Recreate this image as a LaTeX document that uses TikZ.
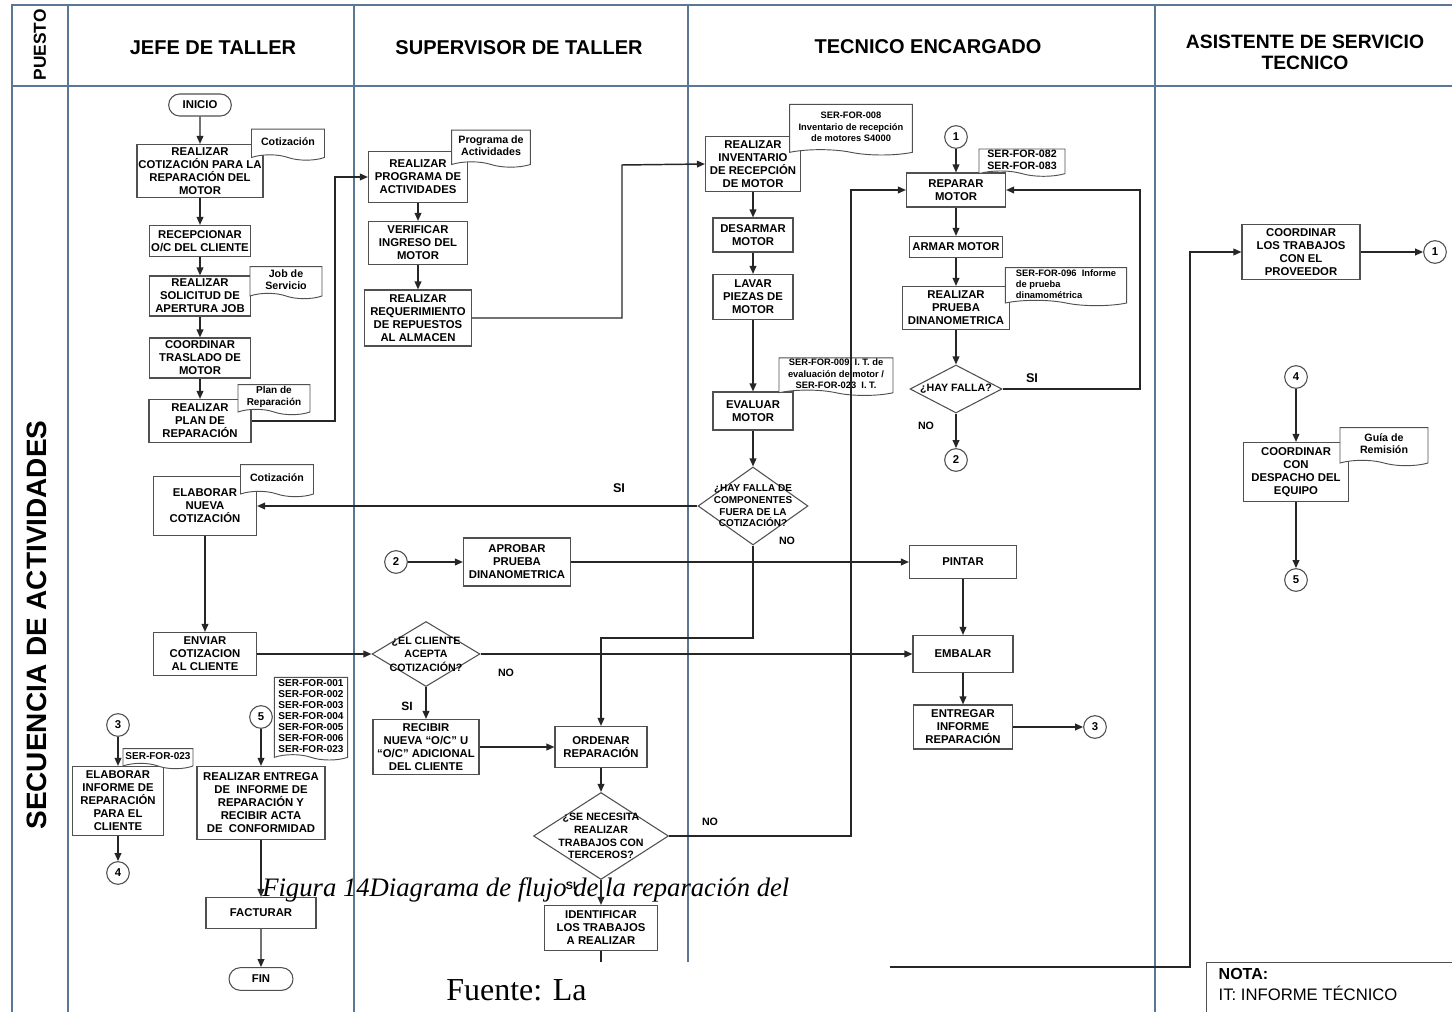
\documentclass[tikz,border=0pt]{standalone}
\usepackage{fontspec}
\setmainfont{Liberation Sans}
\newfontfamily\capfont{Liberation Serif}
\usetikzlibrary{arrows.meta,shapes.geometric,shapes.misc,shapes.symbols}

\definecolor{lanecol}{RGB}{90,120,150}
\definecolor{boxcol}{RGB}{80,80,80}

\begin{document}
\begin{tikzpicture}[x=0.75pt,y=-0.75pt,
  lane/.style={draw=lanecol,line width=1.1pt},
  proc/.style={draw=boxcol,line width=0.8pt,fill=white,align=center,inner sep=1pt,font=\bfseries\fontsize{8.5}{9.75}\selectfont},
  term/.style={proc,rounded rectangle},
  dec/.style={draw=boxcol,line width=0.8pt,fill=white,diamond,inner sep=0pt},
  dectext/.style={align=center,font=\bfseries\fontsize{7.5}{8.8}\selectfont},
  docu/.style={draw=boxcol,line width=0.7pt,fill=white,tape,tape bend top=none,tape bend bottom=out and in,tape bend height=4pt,align=center,inner sep=1pt,font=\bfseries\fontsize{8}{9}\selectfont},
  conn/.style={draw=boxcol,line width=0.8pt,fill=white,circle,minimum size=17pt,inner sep=0pt,font=\bfseries\fontsize{8.5}{9}\selectfont},
  lbl/.style={font=\bfseries\fontsize{8}{9}\selectfont},
  head/.style={font=\bfseries\fontsize{15}{16}\selectfont,align=center},
  flow/.style={draw=black!85,line width=1.1pt,-{Triangle[length=6pt,width=5pt]}}
]
\useasboundingbox (0,0) rectangle (1452,1012);

\draw[lane] (12,1012) -- (12,5) -- (1452,5);
\draw[lane] (12,86) -- (1452,86);
\foreach \x in {68,354,688,1155} \draw[lane] (\x,5) -- (\x,1012);

\node[rotate=90,font=\bfseries\fontsize{13}{14}\selectfont] (puesto) at (40,45) {PUESTO};
\node[rotate=90,font=\bfseries\fontsize{21}{22}\selectfont] (secuencia) at (37,625) {SECUENCIA DE ACTIVIDADES};

\node[head] (hjefe) at (213,48) {JEFE DE TALLER};
\node[head] (hsup) at (519,48) {SUPERVISOR DE TALLER};
\node[head] (htec) at (928,47) {TECNICO ENCARGADO};
\node[head,font=\bfseries\fontsize{14.5}{15.75}\selectfont] (hasis) at (1305,52) {ASISTENTE DE SERVICIO\\TECNICO};

% jefe de taller
\node[term,minimum width=49pt,minimum height=16.5pt] (inicio) at (200,105) {INICIO};
\node[proc,minimum width=94.5pt,minimum height=39.75pt] (cotiz) at (200,171) {REALIZAR\\COTIZACIÓN PARA LA\\REPARACIÓN DEL\\MOTOR};
\node[proc,minimum width=75.75pt,minimum height=23.25pt] (recep) at (200,241) {RECEPCIONAR\\O/C DEL CLIENTE};
\node[proc,minimum width=75.75pt,minimum height=30pt] (solic) at (200,296) {REALIZAR\\SOLICITUD DE\\APERTURA JOB};
\node[proc,minimum width=75.75pt,minimum height=30pt] (trasl) at (200,358) {COORDINAR\\TRASLADO DE\\MOTOR};
\node[proc,minimum width=76.5pt,minimum height=32.25pt] (plan) at (200,421) {REALIZAR\\PLAN DE\\REPARACIÓN};
\node[proc,minimum width=77.25pt,minimum height=44.25pt] (nueva) at (205,506) {ELABORAR\\NUEVA\\COTIZACIÓN};
\node[proc,minimum width=77.25pt,minimum height=32.25pt] (enviar) at (205,654) {ENVIAR\\COTIZACION\\AL CLIENTE};
\node[conn] (c3b) at (118,725) {3};
\node[proc,minimum width=68.25pt,minimum height=51.75pt] (elabinf) at (118,801) {ELABORAR\\INFORME DE\\REPARACIÓN\\PARA EL\\CLIENTE};
\node[conn] (c4a) at (118,873) {4};
\node[conn] (c5b) at (261,717) {5};
\node[proc,minimum width=96pt,minimum height=54.75pt] (entrega) at (261,803) {REALIZAR ENTREGA\\DE\ \ INFORME DE\\REPARACIÓN Y\\RECIBIR ACTA\\DE\ \ CONFORMIDAD};
\node[proc,minimum width=82.5pt,minimum height=23.25pt] (factur) at (261,913) {FACTURAR};
\node[term,minimum width=50pt,minimum height=17pt] (fin) at (261,979) {FIN};

% supervisor de taller
\node[proc,minimum width=74.25pt,minimum height=38.25pt] (prog) at (418,177) {REALIZAR\\PROGRAMA DE\\ACTIVIDADES};
\node[proc,minimum width=74.25pt,minimum height=32.25pt] (verif) at (418,243) {VERIFICAR\\INGRESO DEL\\MOTOR};
\node[proc,minimum width=80.25pt,minimum height=42pt] (requer) at (418,318) {REALIZAR\\REQUERIMIENTO\\DE REPUESTOS\\AL ALMACEN};
\node[conn] (c2b) at (396,562) {2};
\node[proc,minimum width=80.25pt,minimum height=36pt] (aprob) at (517,562) {APROBAR\\PRUEBA\\DINANOMETRICA};
\node[dec,minimum width=81pt,minimum height=48.75pt,label={[dectext,font=\bfseries\fontsize{8}{10}\selectfont]center:{¿EL CLIENTE\\ACEPTA\\COTIZACIÓN?}}] (acepta) at (426,654) {};
\node[proc,minimum width=79.5pt,minimum height=41.25pt] (recibir) at (426,747) {RECIBIR\\NUEVA “O/C” U\\“O/C” ADICIONAL\\DEL CLIENTE};
\node[proc,minimum width=69pt,minimum height=30.75pt] (ordenar) at (601,747) {ORDENAR\\REPARACIÓN};
\node[dec,minimum width=101.25pt,minimum height=65.25pt,label={[dectext,font=\bfseries\fontsize{8}{9.6}\selectfont]center:{¿SE NECESITA\\REALIZAR\\TRABAJOS CON\\TERCEROS?}}] (terceros) at (601,836) {};
\node[proc,minimum width=84.75pt,minimum height=33.75pt] (identif) at (601,928) {IDENTIFICAR\\LOS TRABAJOS\\A REALIZAR};

% tecnico encargado
\node[proc,minimum width=71.25pt,minimum height=41.25pt] (invent) at (753,164) {REALIZAR\\INVENTARIO\\DE RECEPCIÓN\\DE MOTOR};
\node[proc,minimum width=60pt,minimum height=25.5pt] (desarm) at (753,235) {DESARMAR\\MOTOR};
\node[proc,minimum width=60pt,minimum height=33.75pt] (lavar) at (753,297) {LAVAR\\PIEZAS DE\\MOTOR};
\node[proc,minimum width=60pt,minimum height=28.5pt] (evaluar) at (753,411) {EVALUAR\\MOTOR};
\node[dec,minimum width=82.5pt,minimum height=58.5pt,label={[dectext]center:{¿HAY FALLA DE\\COMPONENTES\\FUERA DE LA\\COTIZACIÓN?}}] (fallacomp) at (753,506) {};
\node[conn] (c1a) at (956,137) {1};
\node[proc,minimum width=74.25pt,minimum height=25.5pt] (reparar) at (956,190) {REPARAR\\MOTOR};
\node[proc,minimum width=69.75pt,minimum height=15.75pt] (armar) at (956,247) {ARMAR MOTOR};
\node[proc,minimum width=80.25pt,minimum height=32.25pt] (prueba) at (956,308) {REALIZAR\\PRUEBA\\DINANOMETRICA};
\node[dec,minimum width=69pt,minimum height=36pt,label={[dectext,font=\bfseries\fontsize{8}{9}\selectfont]center:{¿HAY FALLA?}}] (hayfalla) at (956,389) {};
\node[conn] (c2a) at (956,460) {2};
\node[proc,minimum width=80.25pt,minimum height=24.75pt] (pintar) at (963,562) {PINTAR};
\node[proc,minimum width=75pt,minimum height=27.75pt] (embalar) at (963,654) {EMBALAR};
\node[proc,minimum width=74.25pt,minimum height=33pt] (entinf) at (963,727) {ENTREGAR\\INFORME\\REPARACIÓN};
\node[conn] (c3a) at (1095,727) {3};

% asistente de servicio tecnico
\node[proc,minimum width=88.5pt,minimum height=41.25pt] (coordprov) at (1301,252) {COORDINAR\\LOS TRABAJOS\\CON EL\\PROVEEDOR};
\node[conn] (c1b) at (1435,252) {1};
\node[conn] (c4b) at (1296,377) {4};
\node[proc,minimum width=78.75pt,minimum height=44.25pt] (despacho) at (1296,472) {COORDINAR\\CON\\DESPACHO DEL\\EQUIPO};
\node[conn] (c5a) at (1296,580) {5};

% documentos
\node[docu,minimum width=54.75pt,minimum height=23.25pt] (dcot) at (288,142) {Cotización};
\node[docu,minimum width=54pt,minimum height=24pt] (djob) at (286,280) {Job de\\Servicio};
\node[docu,minimum width=54pt,minimum height=22.5pt,font=\bfseries\fontsize{7.5}{8.5}\selectfont] (dplan) at (274,397) {Plan de\\Reparación};
\node[docu,minimum width=54.75pt,minimum height=24pt] (dnueva) at (277,478) {Cotización};
\node[docu,minimum width=52.5pt,minimum height=15pt,font=\bfseries\fontsize{7.5}{8}\selectfont] (dinf) at (158,756) {SER-FOR-023};
\node[docu,minimum width=55pt,minimum height=62pt,font=\bfseries\fontsize{7.5}{8.3}\selectfont] (dlista) at (311,716) {SER-FOR-001\\SER-FOR-002\\SER-FOR-003\\SER-FOR-004\\SER-FOR-005\\SER-FOR-006\\SER-FOR-023};
\node[docu,minimum width=59pt,minimum height=27.75pt] (dprog) at (491,146) {Programa de\\Actividades};
\node[docu,minimum width=92pt,minimum height=38pt,font=\bfseries\fontsize{7}{8.8}\selectfont] (dinv) at (851,127) {SER-FOR-008\\Inventario de recepción\\de motores S4000};
\node[docu,minimum width=85.5pt,minimum height=28pt,font=\bfseries\fontsize{7}{8.5}\selectfont] (deval) at (836,374) {SER-FOR-009\ \ I. T. de\\evaluación de motor /\\SER-FOR-023\ \ I. T.};
\node[docu,minimum width=64.5pt,minimum height=18pt,font=\bfseries\fontsize{8}{8.8}\selectfont] (drep) at (1022,160) {SER-FOR-082\\SER-FOR-083};
\node[docu,minimum width=91pt,minimum height=28.5pt,align=left,font=\bfseries\fontsize{7}{8.5}\selectfont] (dprueba) at (1066,284) {SER-FOR-096\ \ Informe\\de prueba\\dinamométrica};
\node[docu,minimum width=66pt,minimum height=28.5pt] (dguia) at (1384,444) {Guía de\\Remisión};

% etiquetas
\node[lbl,font=\bfseries\fontsize{9.5}{10}\selectfont] (si1) at (619,488) {SI};
\node[lbl] (no1) at (787,541) {NO};
\node[lbl] (no2) at (506,673) {NO};
\node[lbl,font=\bfseries\fontsize{9}{10}\selectfont] (si2) at (407,706) {SI};
\node[lbl] (no3) at (710,822) {NO};
\node[lbl] (si3) at (571,886) {SI};
\node[lbl,font=\bfseries\fontsize{9.5}{10}\selectfont] (si4) at (1032,378) {SI};
\node[lbl] (no4) at (926,426) {NO};

\coordinate (k1) at (335,177);
\coordinate (k2) at (622,165);
\coordinate (k3) at (601,638);
\coordinate (k4) at (851,190);
\coordinate (k5) at (1190,967);
\coordinate (k6) at (1140,389);

\draw[flow] (inicio) -- (cotiz);
\draw[flow] (cotiz) -- (recep);
\draw[flow] (recep) -- (solic);
\draw[flow] (solic) -- (trasl);
\draw[flow] (trasl) -- (plan);
\draw[flow] (plan.east) -| (k1) -- (prog.west);
\draw[flow] (prog) -- (verif);
\draw[flow] (verif) -- (requer);
\draw[flow] (requer.east) -| (k2) -- (invent.west);
\draw[flow] (invent) -- (desarm);
\draw[flow] (desarm) -- (lavar);
\draw[flow] (lavar) -- (evaluar);
\draw[flow] (evaluar) -- (fallacomp);
\draw[flow] (fallacomp.west) -- (nueva.east);
\draw[flow] (fallacomp.south) |- (k3) -- (ordenar.north);
\draw[flow] (nueva) -- (enviar);
\draw[flow] (enviar.east) -- (acepta.west);
\draw[flow] (acepta.east) -- (embalar.west);
\draw[flow] (acepta.south) -- (recibir.north);
\draw[flow] (recibir.east) -- (ordenar.west);
\draw[flow] (ordenar) -- (terceros);
\draw[flow] (terceros.east) -| (k4) -- (reparar.west);
\draw[flow] (terceros.south) -- (identif.north);
\draw[flow] (identif.south) |- (k5) |- (coordprov.west);
\draw[flow] (coordprov.east) -- (c1b);
\draw[flow] (c1a) -- (reparar);
\draw[flow] (reparar) -- (armar);
\draw[flow] (armar) -- (prueba);
\draw[flow] (prueba) -- (hayfalla);
\draw[flow] (hayfalla.east) -- (k6) |- (reparar.east);
\draw[flow] (hayfalla) -- (c2a);
\draw[flow] (c2b) -- (aprob);
\draw[flow] (aprob.east) -- (pintar.west);
\draw[flow] (pintar) -- (embalar);
\draw[flow] (embalar) -- (entinf);
\draw[flow] (entinf) -- (c3a);
\draw[flow] (c3b) -- (elabinf);
\draw[flow] (elabinf) -- (c4a);
\draw[flow] (c5b) -- (entrega);
\draw[flow] (entrega) -- (factur);
\draw[flow] (factur) -- (fin);
\draw[flow] (c4b) -- (despacho);
\draw[flow] (despacho) -- (c5a);

\fill[white] (357,962) rectangle (890,1015);

\node[draw=boxcol,line width=0.8pt,fill=white,anchor=north west,minimum width=200pt,minimum height=45pt] (notabox) at (1206,962) {};
\node[anchor=base west,font=\bfseries\fontsize{12}{13}\selectfont] (nota) at (1214,979) {NOTA:};
\node[anchor=base west,font=\fontsize{12.5}{13}\selectfont] (notait) at (1214,1000) {IT: INFORME TÉCNICO};

\node[anchor=base west,font=\capfont\itshape\fontsize{20}{24}\selectfont,inner sep=0pt] (caption) at (262,896) {Figura 14Diagrama de flujo de la reparación del};
\node[anchor=base west,font=\capfont\fontsize{24}{28}\selectfont,inner sep=0pt] (fuente) at (446,1000) {Fuente: La};

\end{tikzpicture}
\end{document}
